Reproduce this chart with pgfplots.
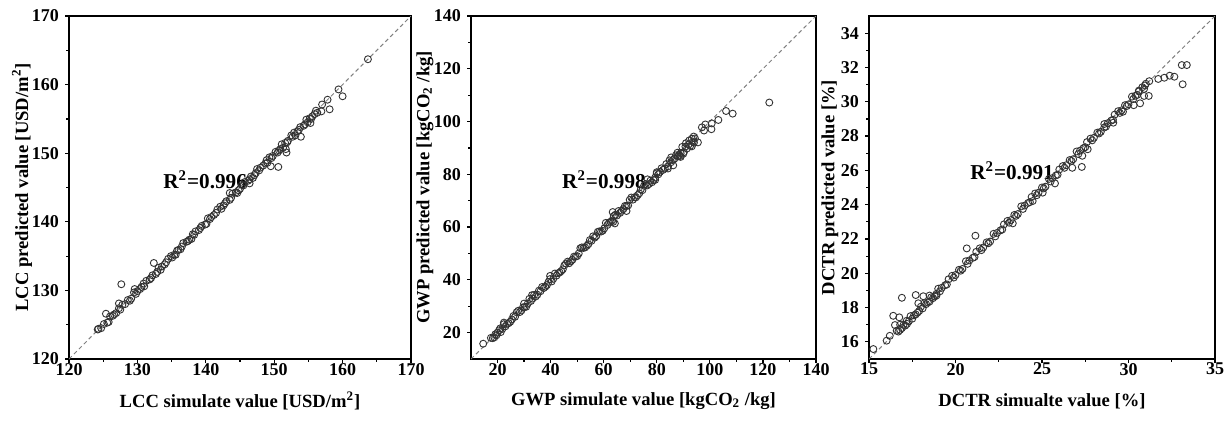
\documentclass[border=0pt]{standalone}
\usepackage{pgfplots}
\pgfplotsset{compat=1.18}
\usepackage{fontspec}
\setmainfont{Liberation Serif}
\pgfplotsset{
 myax/.style={scale only axis, width=171pt, height=171.5pt,
   axis line style={line width=0.7pt},
   tick align=outside, xtick pos=bottom, ytick pos=left,
   minor tick num=1, major tick length=2pt, minor tick length=1.3pt,
   every tick/.style={black, line width=0.6pt},
   tick label style={font=\fontsize{9}{10}\selectfont\bfseries},
   xticklabel style={yshift=3.5pt},
   yticklabel style={xshift=0.5pt},
   label style={font=\fontsize{9.3}{11}\selectfont\bfseries},
   xlabel style={at={(axis description cs:0.5,0)}, anchor=center, yshift=-21pt},
   /pgf/number format/assume math mode=true,
   /pgf/number format/1000 sep={},
   clip=true},
 pts/.style={only marks, mark=o, mark size=1.75pt, mark options={draw=black!80, line width=0.45pt}},
 diag/.style={gray, dash pattern=on 2pt off 1.5pt, line width=0.5pt},
}
\tikzset{rlab/.style={font=\fontsize{10.6}{12}\selectfont\bfseries}}
\begin{document}
\begin{tikzpicture}
\useasboundingbox (0,0) rectangle (615.5pt,210pt);
% Panel 1: LCC
\begin{axis}[myax, at={(34.5pt,30.5pt)}, anchor=south west,
  xmin=120, xmax=170, ymin=120, ymax=170,
  xtick={120,130,...,170}, ytick={120,130,...,170},
  ylabel style={at={(axis description cs:0,0.5)}, anchor=center, yshift=23.5pt},
  xlabel={LCC simulate value [USD/m\textsuperscript{2}]},
  ylabel={LCC predicted value [USD/m\textsuperscript{2}]}]
\addplot[diag] coordinates {(120,120) (170,170)};
\addplot[pts] coordinates {
(124.3,124.4) (124.7,124.5) (125.1,125.1) (125.6,125.3) (126.0,126.2) (126.4,126.3) (126.9,126.7) (127.3,127.4)
(127.8,127.9) (128.2,128.0) (128.6,128.6) (129.1,128.8) (129.5,129.7) (130.0,129.9) (130.4,130.2) (130.9,131.0)
(131.3,131.4) (131.8,131.6) (132.2,132.2) (132.7,132.4) (133.1,133.3) (133.6,133.5) (134.0,133.8) (134.5,134.6)
(134.9,135.0) (135.4,135.2) (135.8,135.8) (136.3,136.0) (136.7,136.9) (137.2,137.1) (137.6,137.4) (138.1,138.2)
(138.5,138.6) (139.0,138.8) (139.4,139.4) (139.9,139.6) (140.3,140.5) (140.8,140.7) (141.2,141.0) (141.7,141.8)
(142.1,142.2) (142.6,142.4) (143.0,143.0) (143.5,143.2) (143.9,144.1) (144.4,144.3) (144.8,144.6) (145.3,145.4)
(145.7,145.8) (146.2,146.0) (146.6,146.6) (147.1,146.8) (147.5,147.7) (148.0,147.9) (148.4,148.2) (148.9,149.0)
(149.3,149.4) (149.8,149.6) (150.2,150.2) (150.7,150.4) (151.1,151.3) (151.6,151.5) (152.0,151.8) (152.5,152.6)
(152.9,153.0) (153.4,153.2) (153.8,153.8) (154.3,154.0) (154.7,154.9) (155.2,155.1) (155.6,155.4) (156.1,156.2)
(125.8,125.4) (128.9,128.5) (131.0,130.6) (133.4,133.0) (135.6,135.2) (137.9,137.5) (140.1,139.7) (142.3,141.9)
(144.6,144.2) (146.9,146.4) (149.0,148.6) (151.3,150.8) (153.1,152.6) (154.9,154.5) (156.3,155.9)
(126.6,126.5) (127.5,127.2) (129.8,129.5) (130.6,130.5) (132.0,131.8) (132.9,132.7) (134.2,134.1) (135.1,134.8)
(136.0,135.9) (136.5,136.4) (137.4,137.2) (138.3,138.1) (139.2,139.1) (140.6,140.4) (141.5,141.3) (142.8,142.7)
(143.7,143.5) (145.0,144.8) (145.5,145.3) (146.4,146.2) (147.3,147.1) (147.8,147.5) (148.7,148.5) (149.6,149.3)
(150.5,150.1) (150.9,150.6) (151.9,151.6) (152.7,152.4) (153.6,153.4) (154.5,154.2) (155.4,155.0) (155.9,155.7)
(124.2,124.3) (125.4,126.6) (127.3,128.1) (127.65,130.9) (129.6,130.2) (132.4,134.0) (143.5,144.2)
(146.4,145.6) (149.5,148.1) (150.6,148.0) (151.8,150.1) (151.7,150.6) (153.9,152.4) (155.3,154.4)
(156.9,156.1) (157.0,157.1) (157.8,157.8) (158.1,156.4) (159.4,159.3) (160.0,158.3) (163.7,163.7)
};
\node[rlab] at (axis cs:139.9,146.1) {R\textsuperscript{2}=0.996};
\end{axis}
% Panel 2: GWP
\begin{axis}[myax, at={(235.5pt,30.5pt)}, anchor=south west, width=172.5pt,
  xmin=10, xmax=140, ymin=10, ymax=140,
  xtick={20,40,...,140}, ytick={20,40,...,140},
  ylabel style={at={(axis description cs:0,0.5)}, anchor=center, yshift=23pt},
  xlabel={GWP simulate value [kgCO\textsubscript{2} /kg]},
  ylabel={GWP predicted value [kgCO\textsubscript{2} /kg]}]
\addplot[diag] coordinates {(10,10) (140,140)};
\addplot[pts] coordinates {
(17.5,18.0) (18.8,18.2) (20.0,20.0) (21.2,20.2) (22.4,23.2) (23.6,23.3) (24.8,24.1) (26.0,26.3)
(27.2,27.7) (28.4,27.8) (29.6,29.6) (30.8,29.8) (32.0,32.8) (33.2,32.9) (34.4,33.7) (35.6,35.9)
(36.8,37.3) (38.0,37.4) (39.2,39.2) (40.4,39.4) (41.6,42.4) (42.8,42.5) (44.0,43.3) (45.2,45.5)
(46.4,46.9) (47.6,47.0) (48.8,48.8) (50.0,49.0) (51.2,52.0) (52.4,52.1) (53.6,52.9) (54.8,55.1)
(56.0,56.5) (57.2,56.6) (58.4,58.4) (59.6,58.6) (60.8,61.6) (62.0,61.7) (63.2,62.5) (64.4,64.7)
(65.6,66.1) (66.8,66.2) (68.0,68.0) (69.2,68.2) (70.4,71.2) (71.6,71.3) (72.8,72.1) (74.0,74.3)
(75.2,75.7) (76.4,75.8) (77.6,77.6) (78.8,77.8) (80.0,80.8) (81.2,80.9) (82.4,81.7) (83.6,83.9)
(84.8,85.3) (86.0,85.4) (87.2,87.2) (88.4,87.4) (89.6,90.4) (90.8,90.5) (92.0,91.3) (93.2,93.5)
(18.2,17.9) (24.2,23.6) (30.2,29.7) (36.2,35.7) (42.2,41.6) (48.2,47.6) (54.2,53.5) (60.2,59.5)
(66.2,65.4) (72.2,71.3) (78.2,77.0) (84.2,83.0) (88.8,87.0) (90.2,88.4) (91.4,89.8) (92.6,90.8)
(19.6,19.0) (20.6,20.9) (21.8,21.4) (23.0,22.4) (25.4,25.0) (26.6,26.0) (27.8,28.3) (29.0,28.4)
(31.4,31.0) (32.6,32.0) (33.8,34.3) (35.0,34.4) (37.4,36.9) (38.6,38.0) (39.8,40.3) (41.0,40.4)
(43.4,42.8) (44.6,44.0) (45.8,46.2) (47.0,46.3) (49.4,48.8) (50.6,50.0) (51.8,52.3) (53.0,52.3)
(55.4,54.8) (56.6,56.0) (57.8,58.2) (59.0,58.3) (61.4,60.8) (62.6,62.0) (63.8,64.2) (65.0,64.4)
(67.4,66.8) (68.6,68.0) (69.8,70.3) (71.0,70.4) (73.4,72.8) (74.6,74.0) (75.8,76.3) (77.0,76.3)
(79.4,78.8) (80.6,80.0) (81.8,82.3) (83.0,82.2) (85.4,84.6) (86.6,85.8) (87.8,88.2) (89.0,88.0)
(91.0,91.8) (92.2,92.8) (93.6,92.4) (94.4,93.6)
(14.6,15.8) (19.2,19.4) (21.0,21.6) (22.4,23.8) (30.0,31.0) (33.0,34.2) (39.8,41.5)
(63.4,65.7) (63.6,62.0) (64.2,61.4) (68.6,66.1) (76.5,78.1) (79.4,77.9) (80.0,80.4) (84.2,82.2)
(86.2,83.4) (85.4,86.4) (88.0,86.8) (89.0,86.6) (90.0,87.8) (93.2,90.6) (93.9,94.3) (94.0,92.0)
(95.5,92.1) (97.0,97.8) (97.8,96.6) (98.3,98.9) (100.6,97.1) (100.7,99.3) (103.2,100.6)
(106.1,104.0) (108.6,103.0) (122.4,107.2)
};
\node[rlab] at (axis cs:60.1,77.9) {R\textsuperscript{2}=0.998};
\end{axis}
% Panel 3: DCTR
\begin{axis}[myax, at={(434.5pt,30.5pt)}, anchor=south west, width=173pt,
  xmin=15, xmax=35, ymin=15, ymax=35,
  xtick={15,20,...,35}, ytick={16,18,...,34},
  ylabel style={at={(axis description cs:0,0.5)}, anchor=center, yshift=19.5pt},
  xlabel={DCTR simualte value [\%]},
  ylabel={DCTR predicted value [\%]}]
\addplot[diag] coordinates {(15,15) (35,35)};
\addplot[pts] coordinates {
(16.6,16.65) (16.8,16.70) (17.0,17.00) (17.2,17.05) (17.4,17.50) (17.6,17.55) (17.8,17.70) (18.0,18.05)
(18.2,18.25) (18.4,18.30) (18.6,18.60) (18.8,18.65) (19.0,19.10) (19.2,19.15) (19.4,19.30) (19.6,19.65)
(19.8,19.85) (20.0,19.90) (20.2,20.20) (20.4,20.25) (20.6,20.70) (20.8,20.75) (21.0,20.90) (21.2,21.25)
(21.4,21.45) (21.6,21.50) (21.8,21.80) (22.0,21.85) (22.2,22.30) (22.4,22.35) (22.6,22.50) (22.8,22.85)
(23.0,23.05) (23.2,23.10) (23.4,23.40) (23.6,23.45) (23.8,23.90) (24.0,23.95) (24.2,24.10) (24.4,24.45)
(24.6,24.65) (24.8,24.70) (25.0,25.00) (25.2,25.05) (25.4,25.50) (25.6,25.55) (25.8,25.70) (26.0,26.05)
(26.2,26.25) (26.4,26.30) (26.6,26.60) (26.8,26.65) (27.0,27.10) (27.2,27.15) (27.4,27.30) (27.6,27.65)
(27.8,27.85) (28.0,27.90) (28.2,28.20) (28.4,28.25) (28.6,28.70) (28.8,28.75) (29.0,28.90) (29.2,29.25)
(29.4,29.45) (29.6,29.50) (29.8,29.80) (30.0,29.85) (30.2,30.30) (30.4,30.35) (30.6,30.60) (30.8,30.85)
(31.0,31.05) (31.2,31.20)
(16.7,16.6) (16.9,16.8) (17.1,16.95) (17.3,17.2) (17.5,17.35) (17.7,17.6) (17.9,17.8) (18.1,17.95)
(18.3,18.2) (18.5,18.35) (18.7,18.55) (18.9,18.8) (19.1,18.95) (19.5,19.35) (19.9,19.75) (20.3,20.15)
(20.7,20.55) (21.1,20.95) (21.5,21.35) (21.9,21.75) (22.3,22.15) (22.7,22.55) (23.1,22.95) (23.5,23.35)
(23.9,23.75) (24.3,24.15) (24.7,24.55) (25.1,24.95) (25.5,25.35) (25.9,25.75) (26.3,26.15) (26.7,26.55)
(27.1,26.95) (27.5,27.35) (27.9,27.75) (28.3,28.15) (28.7,28.55) (29.1,28.95) (29.5,29.35) (29.9,29.75)
(30.5,30.4) (30.9,30.75)
(15.25,15.58) (16.02,16.07) (16.2,16.35) (16.4,17.52) (16.5,16.98) (16.75,17.43) (16.9,18.57) (16.8,17.0)
(17.18,17.23) (17.7,18.73) (17.85,18.25) (18.14,18.66) (18.5,18.7) (18.9,18.7) (20.65,21.45) (21.15,22.19)
(23.31,22.91) (24.46,24.21) (25.04,24.70) (25.75,25.24) (26.75,26.15) (27.3,26.2) (27.33,26.85) (27.64,27.23)
(28.6,28.5) (29.12,28.78) (29.68,29.42) (30.28,30.16) (30.3,29.8) (30.67,29.91) (30.9,30.34) (31.17,30.34)
(30.6,30.65) (30.95,30.95) (31.72,31.33) (32.07,31.40) (32.38,31.52) (32.65,31.46) (33.08,32.14) (33.37,32.14)
(33.13,31.02)
};
\node[rlab] at (axis cs:23.27,26.0) {R\textsuperscript{2}=0.991};
\end{axis}
\end{tikzpicture}
\end{document}
